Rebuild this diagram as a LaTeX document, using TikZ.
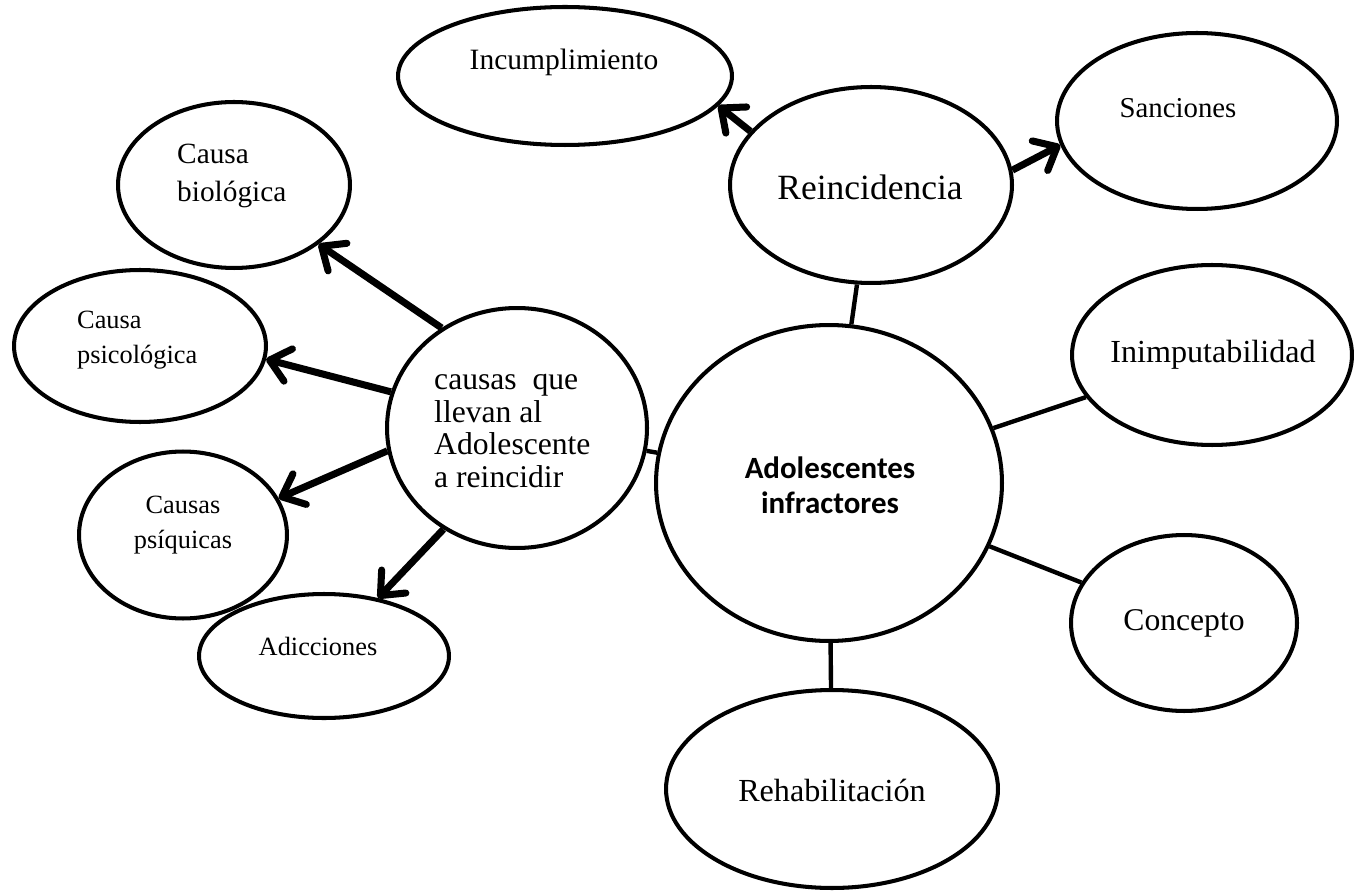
\documentclass[tikz,border=0pt]{standalone}
\usepackage{fontspec}
\setmainfont{Liberation Serif}
\newfontfamily\calibri{Carlito}
\usetikzlibrary{arrows.meta, shapes.geometric}
\newcommand{\sz}[2]{\fontsize{#1}{#2}\selectfont}

\begin{document}
\begin{tikzpicture}[x=0.02cm, y=-0.02cm, >={Straight Barb[round, length=11pt, width=19pt]},
  bubble/.style={draw, ellipse, line width=2.3pt, inner sep=0pt},
  push/.style={->, line width=4pt},
  tie/.style={line width=2.5pt}]
\useasboundingbox (0,0) rectangle (1354,891);

% centre
\node[bubble, minimum width=6.92cm, minimum height=6.32cm] (adol) at (829,483) {};
\node[font=\calibri\bfseries\sz{17.6pt}{20pt}, align=center] (adolt) at (830,485) {Adolescentes\\infractores};

% right side
\node[bubble, minimum width=5.64cm, minimum height=3.92cm] (reinc) at (871,185) {};
\node[font=\sz{20.2pt}{24pt}] (reinct) at (870,187) {Reincidencia};
\node[bubble, minimum width=6.68cm, minimum height=2.76cm] (incump) at (565,76) {};
\node[font=\sz{16.8pt}{20pt}] (incumpt) at (564,62) {Incumplimiento};
\node[bubble, minimum width=5.6cm, minimum height=3.52cm] (sanc) at (1197,121) {};
\node[font=\sz{16.4pt}{20pt}] (sanct) at (1178,108) {Sanciones};
\node[bubble, minimum width=5.6cm, minimum height=3.6cm] (inimp) at (1212,355) {};
\node[font=\sz{18.3pt}{22pt}] (inimpt) at (1213,355) {Inimputabilidad};
\node[bubble, minimum width=4.52cm, minimum height=3.52cm] (conc) at (1184,623) {};
\node[font=\sz{18pt}{22pt}] (conct) at (1184,623) {Concepto};
\node[bubble, minimum width=6.64cm, minimum height=3.96cm] (rehab) at (832,789) {};
\node[font=\sz{18.3pt}{22pt}] (rehabt) at (832,790) {Rehabilitación};

% left side
\node[bubble, minimum width=5.2cm, minimum height=4.8cm] (causas) at (517,428) {};
\node[font=\sz{18pt}{18.6pt}, align=left, anchor=west] (causast) at (428,431) {causas~ que\\llevan al\\Adolescente\\a reincidir};
\node[bubble, minimum width=4.64cm, minimum height=3.32cm] (biol) at (234,185) {};
\node[font=\sz{16.7pt}{21.6pt}, align=left, anchor=west] (biolt) at (171,176) {Causa\\biológica};
\node[bubble, minimum width=5.04cm, minimum height=3.04cm] (psicol) at (140,346) {};
\node[font=\sz{15pt}{20pt}, align=left, anchor=west] (psicolt) at (71,340) {Causa\\psicológica};
\node[bubble, minimum width=4.16cm, minimum height=3.34cm] (psiq) at (183,535) {};
\node[font=\sz{15pt}{20pt}, align=center] (psiqt) at (183,525) {Causas\\psíquicas};
\node[bubble, minimum width=5cm, minimum height=2.48cm] (adic) at (324,656) {};
\node[font=\sz{15pt}{18pt}] (adict) at (318,646) {Adicciones};

% plain links
\draw[tie] (reinc) -- (adol);
\draw[tie] (adol) -- (inimp);
\draw[tie] (adol) -- (conc);
\draw[tie] (adol) -- (rehab);
\draw[tie] (causas) -- (adol);

% arrows
\draw[push] (reinc.156.7) -- (incump.-11.8);
\draw[push] (reinc.6.3) -- (sanc.190.5);
\draw[push] (causas.127.5) -- (biol.-35.1);
\draw[push] (causas.164.5) -- (psicol.-6.4);
\draw[push] (causas.190.3) -- (psiq.21.1);
\draw[push] (causas.234.1) -- (adic.47.4);
\end{tikzpicture}
\end{document}
